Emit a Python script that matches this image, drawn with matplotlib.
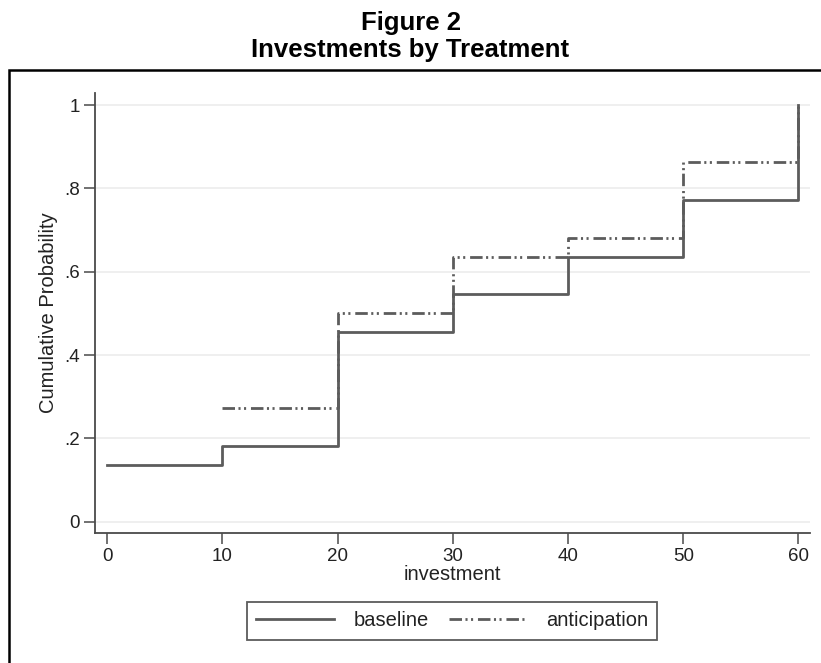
import matplotlib
matplotlib.use("Agg")
import matplotlib.pyplot as plt
from matplotlib.patches import Rectangle

plt.rcParams['font.family'] = ['Liberation Sans', 'DejaVu Sans']
plt.rcParams['lines.scale_dashes'] = False

# cumulative share of subjects investing at or below each amount (n = 22)
base_x = [0, 10, 20, 30, 40, 50, 60]
base_y = [3/22, 4/22, 10/22, 12/22, 14/22, 17/22, 22/22]
antic_x = [10, 20, 30, 40, 50, 60]
antic_y = [6/22, 11/22, 14/22, 15/22, 19/22, 22/22]

xticks = [0, 10, 20, 30, 40, 50, 60]
yticks = [0, 0.2, 0.4, 0.6, 0.8, 1.0]
ylabels = ["0", ".2", ".4", ".6", ".8", "1"]

line_col = '#5c5c5c'
axis_col = '#4a4a4a'

fig = plt.figure(figsize=(8.21, 6.63), dpi=100)
fig.text(0.5, 0.966, "Figure 2", ha='center', va='center', fontsize=18.5, fontweight='bold')
fig.text(0.5, 0.925, "Investments by Treatment", ha='center', va='center', fontsize=18.5, fontweight='bold')

# outer frame around the plot region
fig.patches.append(Rectangle((9/821, -0.1), 1.2, 1 - 70/663 + 0.1, transform=fig.transFigure,
                             fill=False, edgecolor='black', linewidth=1.8))

ax = fig.add_axes([95/821, 1 - 533/663, 715/821, 440/663])
ax.set_xlim(-1.05, 61.0)
ax.set_ylim(-0.027, 1.029)

for t in yticks:
    ax.axhline(t, color='#ececec', linewidth=1.2, zorder=0)

ax.step(antic_x, antic_y, where='post', color=line_col, linewidth=2,
        linestyle=(0, (9, 2.5, 1.5, 2.5, 1.5, 3.5)), label='anticipation', zorder=2)
ax.step(base_x, base_y, where='post', color=line_col, linewidth=2,
        label='baseline', zorder=3)

ax.spines['top'].set_visible(False)
ax.spines['right'].set_visible(False)
for s in ('left', 'bottom'):
    ax.spines[s].set_color(axis_col)
    ax.spines[s].set_linewidth(1.3)

ax.set_xticks(xticks)
ax.set_yticks(yticks)
ax.set_yticklabels(ylabels)
ax.tick_params(axis='both', direction='out', length=8, width=1.1, color=axis_col,
               labelsize=13.5, labelcolor='#222222', pad=3)
ax.set_xlabel("investment", fontsize=14.5, color='#222222', labelpad=0)
ax.set_ylabel("Cumulative Probability", fontsize=14.5, color='#222222', labelpad=4)

handles, labels = ax.get_legend_handles_labels()
leg = ax.legend(handles[::-1], labels[::-1], loc='center', bbox_to_anchor=(452/715 - 95/715, -0.2),
                bbox_transform=ax.transAxes, ncol=2, frameon=True, fancybox=False,
                fontsize=14.5, handlelength=3.9, columnspacing=1.0, handletextpad=0.95,
                borderpad=0.45)
leg.get_frame().set_edgecolor('#333333')
leg.get_frame().set_linewidth(1.3)
for txt in leg.get_texts():
    txt.set_color('#222222')

fig.savefig("out.png", dpi=100)
